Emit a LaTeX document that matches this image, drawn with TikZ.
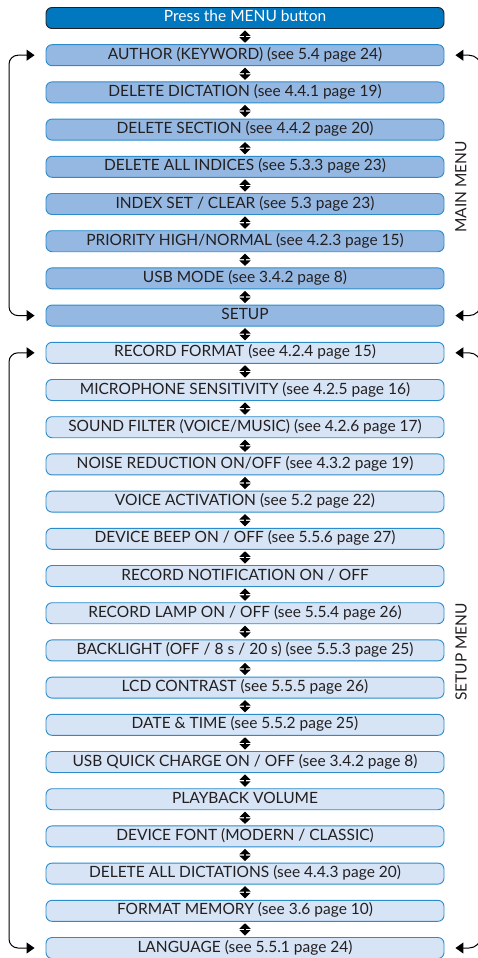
\documentclass[tikz,border=0pt]{standalone}
\usepackage{fontspec}
\setmainfont{Lato}
\usepackage{tikz}
\usetikzlibrary{positioning, arrows.meta}
\definecolor{pressBlue}{HTML}{0077BE}
\definecolor{boxEdge}{HTML}{2A8CCB}
\definecolor{mainFill}{HTML}{95B8E3}
\definecolor{setupFill}{HTML}{D6E4F6}
\definecolor{inkGray}{HTML}{231F20}

\begin{document}
\begin{tikzpicture}[x=1pt, y=-1pt, on grid, node distance=37.2pt,
    menubox/.style={draw=boxEdge, line width=0.9pt, rounded corners=6pt,
        minimum width=398pt, minimum height=21pt, inner sep=0pt,
        text height=11pt, text depth=3pt, font=\fontsize{15.5}{17}\selectfont,
        text=inkGray},
    mainbox/.style={menubox, fill=mainFill},
    setupbox/.style={menubox, fill=setupFill},
    pressbox/.style={menubox, fill=pressBlue, draw=inkGray, text=white},
    dblarrow/.style={line width=1.2pt, shorten <=1.5pt, shorten >=1.5pt,
        {Triangle[width=11pt,length=5.5pt]}-{Triangle[width=11pt,length=5.5pt]}},
    loopline/.style={line width=1pt, rounded corners=9pt,
        {Triangle[width=11pt,length=8pt]}-{Triangle[width=11pt,length=8pt]}},
    sidelabel/.style={rotate=90, font=\fontsize{15.5}{17}\selectfont, text=inkGray}]
    \useasboundingbox (0,0) rectangle (478,958);
    \clip (0,0) rectangle (478,958);

    % main menu
    \node[pressbox] (b0) at (245,18) {Press the MENU button};
    \node[mainbox, below=of b0] (b1) {AUTHOR (KEYWORD) (see 5.4 page 24)};
    \node[mainbox, below=of b1] (b2) {DELETE DICTATION (see 4.4.1 page 19)};
    \node[mainbox, below=of b2] (b3) {DELETE SECTION (see 4.4.2 page 20)};
    \node[mainbox, below=of b3] (b4) {DELETE ALL INDICES (see 5.3.3 page 23)};
    \node[mainbox, below=of b4] (b5) {INDEX SET / CLEAR (see 5.3 page 23)};
    \node[mainbox, below=of b5] (b6) {PRIORITY HIGH/NORMAL (see 4.2.3 page 15)};
    \node[mainbox, below=of b6] (b7) {USB MODE (see 3.4.2 page 8)};
    \node[mainbox, below=of b7] (b8) {SETUP};

    % setup menu
    \node[setupbox, below=of b8] (b9) {RECORD FORMAT (see 4.2.4 page 15)};
    \node[setupbox, below=of b9] (b10) {MICROPHONE SENSITIVITY (see 4.2.5 page 16)};
    \node[setupbox, below=of b10] (b11) {SOUND FILTER (VOICE/MUSIC) (see 4.2.6 page 17)};
    \node[setupbox, below=of b11] (b12) {NOISE REDUCTION ON/OFF (see 4.3.2 page 19)};
    \node[setupbox, below=of b12] (b13) {VOICE ACTIVATION (see 5.2 page 22)};
    \node[setupbox, below=of b13] (b14) {DEVICE BEEP ON / OFF (see 5.5.6 page 27)};
    \node[setupbox, below=of b14] (b15) {RECORD NOTIFICATION ON / OFF};
    \node[setupbox, below=of b15] (b16) {RECORD LAMP ON / OFF (see 5.5.4 page 26)};
    \node[setupbox, below=of b16] (b17) {BACKLIGHT (OFF / 8 s / 20 s) (see 5.5.3 page 25)};
    \node[setupbox, below=of b17] (b18) {LCD CONTRAST (see 5.5.5 page 26)};
    \node[setupbox, below=of b18] (b19) {DATE \& TIME (see 5.5.2 page 25)};
    \node[setupbox, below=of b19] (b20) {USB QUICK CHARGE ON / OFF (see 3.4.2 page 8)};
    \node[setupbox, below=of b20] (b21) {PLAYBACK VOLUME};
    \node[setupbox, below=of b21] (b22) {DEVICE FONT (MODERN / CLASSIC)};
    \node[setupbox, below=of b22] (b23) {DELETE ALL DICTATIONS (see 4.4.3 page 20)};
    \node[setupbox, below=of b23] (b24) {FORMAT MEMORY (see 3.6 page 10)};
    \node[setupbox, below=of b24] (b25) {LANGUAGE (see 5.5.1 page 24)};

    % up/down steps
    \foreach \i [evaluate=\i as \j using int(\i+1)] in {0,...,24}
        \draw[dblarrow] (b\i.south) -- (b\j.north);

    % wrap-around loops
    \coordinate (lft) at (9,0);
    \coordinate (rgt) at (481,0);
    \draw[loopline] ([xshift=-11pt]b8.west) -- (b8.west -| lft) -- (b1.west -| lft) -- ([xshift=-11pt]b1.west);
    \draw[loopline] ([xshift=-11pt]b25.west) -- (b25.west -| lft) -- (b9.west -| lft) -- ([xshift=-11pt]b9.west);
    \draw[loopline, rounded corners=12pt] ([xshift=11pt]b1.east) -- (b1.east -| rgt) -- (b8.east -| rgt) -- ([xshift=11pt]b8.east);
    \draw[loopline, rounded corners=12pt] ([xshift=11pt]b9.east) -- (b9.east -| rgt) -- (b25.east -| rgt) -- ([xshift=11pt]b25.east);

    \node[sidelabel] (mainlbl) at (461,187) {MAIN MENU};
    \node[sidelabel] (setuplbl) at (461,652) {SETUP MENU};
\end{tikzpicture}
\end{document}
